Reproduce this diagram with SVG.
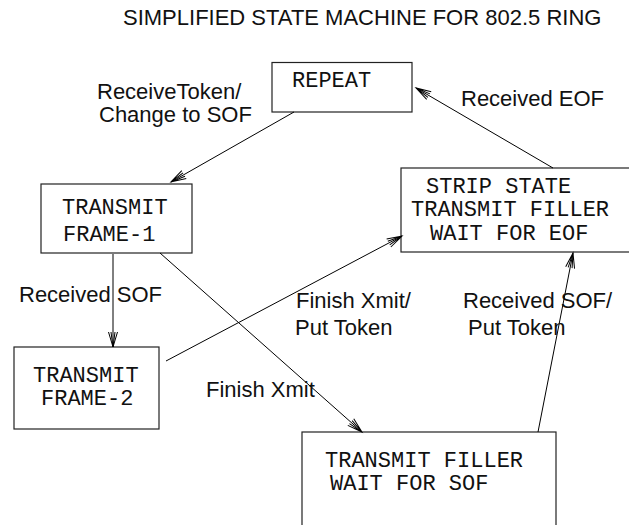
<svg xmlns="http://www.w3.org/2000/svg" width="629" height="525" viewBox="0 0 629 525">
<style>
.box{fill:none;stroke:#222;stroke-width:1.2}
.st{font-family:"Liberation Mono","Courier New",monospace;font-size:22px;fill:#111}
.lb{font-family:"Liberation Sans",Arial,sans-serif;font-size:22px;fill:#111}
.ed{fill:none;stroke:#000;stroke-width:1;marker-end:url(#ah)}
</style>
<defs>
<marker id="ah" markerUnits="userSpaceOnUse" markerWidth="20" markerHeight="12" viewBox="-16 -6 18 12" refX="0" refY="0" orient="auto">
<path d="M-15,-4.5 L0,0 L-15,4.5 M-15,-2 L0,0 L-15,2" fill="none" stroke="#000" stroke-width="1"/>
</marker>
</defs>
<rect width="629" height="525" fill="#fff"/>
<text class="lb" x="123" y="25">SIMPLIFIED STATE MACHINE FOR 802.5 RING</text>
<g id="repeat">
<rect class="box" x="272" y="62.5" width="140" height="49.5"/>
<text class="st" x="292" y="87">REPEAT</text>
</g>
<g id="frame1">
<rect class="box" x="41" y="184" width="151" height="69"/>
<text class="st" x="62" y="214">TRANSMIT</text>
<text class="st" x="63" y="241">FRAME-1</text>
</g>
<g id="frame2">
<rect class="box" x="14" y="347" width="145" height="82"/>
<text class="st" x="33" y="382">TRANSMIT</text>
<text class="st" x="41" y="405">FRAME-2</text>
</g>
<g id="strip">
<rect class="box" x="401" y="168" width="240" height="84"/>
<text class="st" x="426" y="193">STRIP STATE</text>
<text class="st" x="411" y="216">TRANSMIT FILLER</text>
<text class="st" x="430" y="240">WAIT FOR EOF</text>
</g>
<g id="filler">
<rect class="box" x="302" y="432" width="254" height="110"/>
<text class="st" x="325" y="467">TRANSMIT FILLER</text>
<text class="st" x="330" y="490">WAIT FOR SOF</text>
</g>
<g id="connectors">
<line class="ed" x1="294" y1="112" x2="171" y2="182"/>
<line class="ed" x1="553" y1="168" x2="416" y2="88"/>
<line class="ed" x1="113" y1="254" x2="113" y2="347"/>
<line class="ed" x1="160" y1="253" x2="362" y2="432"/>
<line class="ed" x1="166" y1="361" x2="402" y2="236"/>
<line class="ed" x1="538" y1="432" x2="573" y2="253"/>
</g>
<g id="labels">
<text class="lb" x="97" y="99">ReceiveToken/</text>
<text class="lb" x="99" y="122">Change to SOF</text>
<text class="lb" x="461" y="106">Received EOF</text>
<text class="lb" x="19" y="302">Received SOF</text>
<text class="lb" x="296" y="308">Finish Xmit/</text>
<text class="lb" x="295" y="335">Put Token</text>
<text class="lb" x="463" y="308">Received SOF/</text>
<text class="lb" x="468" y="335">Put Token</text>
<text class="lb" x="206" y="397">Finish Xmit</text>
</g>
</svg>
